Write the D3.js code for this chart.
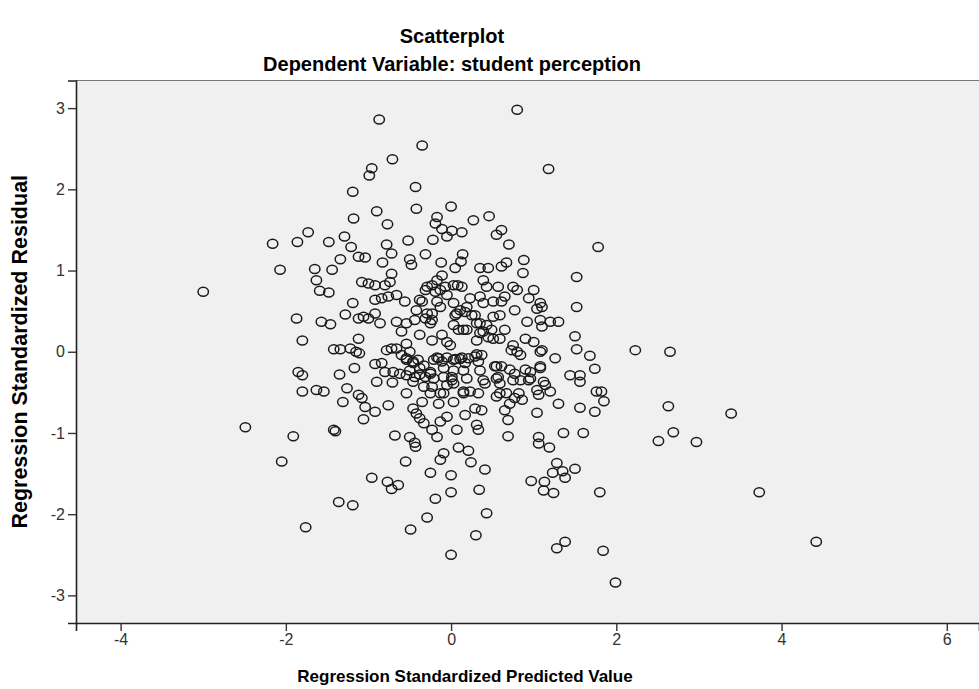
<!DOCTYPE html>
<html>
<head>
<meta charset="utf-8">
<script src="https://cdn.jsdelivr.net/npm/d3@7"></script>
<style>
body { margin: 0; background: #fff; }
svg { display: block; font-family: "Liberation Sans", Arial, sans-serif; }
</style>
</head>
<body>
<svg id="chart"></svg>
<script>
// regression standardized predicted value (x) and standardized residual (y)
var predicted = [
  -0.87,-0.35,-0.71,-0.96,-0.99,-0.43,-1.19,-0.90,-0.42,-1.18,-0.77,0.00,-0.17,-0.19,-0.11,-0.05,-0.22,-0.52,-0.78,-0.72,
  -0.31,-2.16,-1.86,-1.73,-1.48,-1.29,-1.21,-1.34,-1.12,-1.04,-0.83,-0.50,-0.48,-0.12,-2.07,-1.65,-1.44,
  0.80,1.18,1.78,0.46,0.27,0.61,0.55,0.13,0.01,0.70,0.14,0.12,0.88,0.67,0.35,0.61,0.05,0.45,
  -1.63,-1.59,-1.48,-1.08,-1.00,-0.92,-0.80,-0.74,-0.72,-0.31,-0.23,-0.17,-0.11,-0.07,-0.05,-0.19,
  -1.87,-1.80,-1.57,-1.46,-1.28,-1.19,-1.12,-1.06,-1.00,-0.92,-0.92,-0.86,-0.84,-0.76,-0.66,-0.56,-0.66,-0.60,-0.54,-0.42,
  -0.35,-0.31,-0.23,-0.25,-0.13,-0.11,-0.05,-0.23,-0.38,-1.42,-1.34,-1.22,-1.12,-1.15,-1.11,-1.85,-1.80,-1.80,-1.63,-1.54,
  -1.35,-1.17,-1.26,-0.92,-0.84,-0.78,-0.72,-0.66,-0.60,-0.54,-0.50,-0.46,-0.40,-0.38,-0.31,-0.25,-0.21,-0.15,-0.11,-0.80,
  -0.70,-0.62,-0.90,-0.71,-0.54,-0.44,-1.12,-1.08,-1.31,-1.04,-0.92,-0.76,-1.06,-1.42,-1.40,-1.91,-2.49,-0.68,-0.50,-0.46,
  -0.42,-0.38,-0.33,-0.35,-0.23,-0.13,-0.15,-0.05,-0.23,-0.13,-0.05,-0.17,
  1.52,1.52,2.23,0.87,0.08,0.03,0.39,0.43,0.57,0.75,0.80,1.00,0.94,1.08,1.10,1.04,0.77,0.61,0.65,0.51,
  0.39,0.35,0.23,0.19,0.11,0.17,0.03,0.05,0.29,0.59,0.92,1.08,1.20,1.30,1.10,0.03,0.15,0.35,0.39,0.49,
  0.65,0.51,0.31,-0.01,0.90,1.00,1.50,1.52,1.68,1.74,0.75,0.80,0.84,1.08,1.26,1.08,0.03,0.11,0.21,0.29,
  0.37,0.17,0.33,0.55,0.61,0.57,0.59,0.77,0.96,0.84,0.94,0.15,0.35,0.01,0.41,0.03,1.06,1.14,1.20,1.44,
  1.56,1.56,1.76,1.82,1.85,1.30,1.56,1.74,1.04,0.77,0.86,0.67,0.55,0.71,0.65,0.69,0.15,0.23,0.03,0.29,
  0.37,0.17,0.31,0.33,0.07,0.69,1.06,1.36,1.60,
  -2.05,-0.96,-0.77,-0.72,-0.64,-0.55,-0.43,-0.44,-0.25,-0.13,-0.09,0.00,-0.19,0.00,-1.36,-1.19,-1.76,-0.29,-0.49,0.00,
  0.09,0.21,0.24,0.41,0.34,0.43,0.30,1.06,1.19,1.28,1.23,1.35,1.38,1.50,0.97,1.13,1.12,1.24,1.80,1.38,
  1.28,1.84,1.99,
  2.65,2.63,3.39,2.69,2.51,2.97,3.73,4.42,-3.00,
  -0.29,-0.13,0.13,-0.38,-0.17,-0.44,-0.29,-0.23,0.07,0.25,0.31,0.43,0.51,0.09,0.19,0.35,0.45,0.59,-0.54,1.10,
  0.73,-0.54,-0.46,-0.33,-0.17,-0.05,0.05,0.13,0.31,-0.50,-0.38,-0.25,-0.09,0.03,0.53,0.71,0.90,1.08,-0.46,-0.33,
  -0.21,-0.09,0.01,0.19,0.39,0.55,0.75,0.96,1.12,-0.54,-0.25,-0.09,0.15,0.33,0.59,0.82,1.04
];
var residual = [
  2.86,2.54,2.37,2.26,2.17,2.03,1.97,1.73,1.76,1.64,1.57,1.79,1.66,1.58,1.51,1.42,1.38,1.37,1.32,1.21,
  1.20,1.33,1.35,1.47,1.35,1.42,1.29,1.14,1.17,1.16,1.10,1.14,1.07,1.10,1.01,1.02,1.01,
  2.98,2.25,1.29,1.67,1.62,1.50,1.44,1.47,1.49,1.32,1.20,1.11,1.13,1.10,1.03,1.05,1.03,1.03,
  0.88,0.75,0.73,0.86,0.84,0.82,0.82,0.86,0.96,0.76,0.82,0.88,0.94,0.80,0.70,0.74,
  0.41,0.14,0.37,0.34,0.46,0.60,0.41,0.43,0.41,0.47,0.64,0.35,0.66,0.68,0.70,0.62,0.37,0.25,0.35,0.51,
  0.62,0.41,0.47,0.35,0.55,0.21,0.12,0.14,0.21,0.03,0.03,0.04,0.16,0.00,-0.02,-0.25,-0.29,-0.49,-0.47,-0.49,
  -0.28,-0.20,-0.45,-0.15,-0.14,0.02,0.04,0.04,-0.04,-0.08,0.00,-0.14,-0.10,-0.20,-0.31,-0.27,-0.10,-0.08,-0.12,-0.25,
  -0.25,-0.27,-0.37,-0.38,-0.29,-0.31,-0.53,-0.57,-0.62,-0.68,-0.74,-0.66,-0.83,-0.96,-0.98,-1.04,-0.93,-1.03,-1.05,-0.70,
  -0.76,-0.82,-0.88,-0.62,-0.96,-0.86,-0.64,-0.80,-0.43,-0.51,-0.41,-1.05,
  0.92,0.55,0.02,0.97,0.82,0.82,0.88,0.80,0.80,0.80,0.76,0.76,0.66,0.60,0.55,0.53,0.51,0.62,0.68,0.62,
  0.60,0.68,0.66,0.55,0.51,0.49,0.60,0.45,0.45,0.45,0.37,0.39,0.37,0.37,0.31,0.33,0.27,0.35,0.25,0.27,
  0.27,0.16,0.14,0.08,0.16,0.12,0.19,0.03,-0.05,-0.21,0.08,0.00,-0.04,0.00,-0.08,-0.18,-0.10,-0.09,-0.08,-0.06,
  -0.04,-0.14,-0.12,-0.18,-0.18,-0.31,-0.39,-0.27,-0.25,-0.35,-0.35,-0.23,-0.23,-0.31,-0.39,-0.39,-0.53,-0.41,-0.49,-0.29,
  -0.29,-0.37,-0.49,-0.49,-0.61,-0.64,-0.69,-0.74,-0.75,-0.57,-0.59,-0.51,-0.55,-0.64,-0.72,-0.84,-0.51,-0.49,-0.62,-0.70,
  -0.72,-0.78,-0.90,-0.96,-0.96,-1.04,-1.05,-1.00,-1.00,
  -1.35,-1.55,-1.60,-1.69,-1.64,-1.35,-1.17,-1.12,-1.49,-1.33,-1.25,-1.52,-1.81,-1.73,-1.85,-1.89,-2.16,-2.04,-2.19,-2.50,
  -1.18,-1.22,-1.36,-1.45,-1.70,-1.99,-2.26,-1.13,-1.18,-1.37,-1.49,-1.47,-1.55,-1.44,-1.59,-1.60,-1.71,-1.74,-1.73,-2.34,
  -2.42,-2.45,-2.84,
  0.00,-0.67,-0.76,-0.99,-1.10,-1.11,-1.73,-2.34,0.74,
  0.80,0.76,0.80,0.64,0.62,0.39,0.47,0.39,0.47,0.45,0.35,0.33,0.43,0.27,0.27,0.23,0.18,0.16,0.10,0.02,
  0.02,-0.10,-0.12,-0.17,-0.07,-0.07,-0.09,-0.07,-0.03,-0.23,-0.28,-0.25,-0.20,-0.23,-0.18,-0.22,-0.22,-0.20,-0.37,-0.43,
  -0.33,-0.31,-0.35,-0.33,-0.35,-0.33,-0.35,-0.33,-0.37,-0.51,-0.51,-0.51,-0.49,-0.51,-0.51,-0.51,-0.47
];
var xTicks = [-4, -2, 0, 2, 4, 6];
var yTicks = [-3, -2, -1, 0, 1, 2, 3];
var title = "Scatterplot";
var subtitle = "Dependent Variable: student perception";
var xLabel = "Regression Standardized Predicted Value";
var yLabel = "Regression Standardized Residual";

var W = 979, H = 689;
var plotLeft = 76, plotTop = 80.5, plotRight = 979, plotBottom = 623;

var svg = d3.select("#chart").attr("width", W).attr("height", H);

var points = predicted.map(function(d, i) { return { x: d, y: residual[i] }; });

var x = d3.scaleLinear().domain([-4.54, 6.39]).range([plotLeft, plotRight]);
var y = d3.scaleLinear().domain([-3.34, 3.34]).range([plotBottom, plotTop]);

// plot background
svg.append("rect")
    .attr("x", plotLeft).attr("y", plotTop)
    .attr("width", plotRight - plotLeft).attr("height", plotBottom - plotTop)
    .attr("fill", "#f0f0f0");

svg.append("line")
    .attr("x1", plotLeft).attr("x2", plotRight)
    .attr("y1", plotTop).attr("y2", plotTop)
    .attr("stroke", "#777").attr("stroke-width", 1.2);

// points
svg.append("g")
    .selectAll("ellipse")
    .data(points)
    .enter().append("ellipse")
    .attr("cx", function(d) { return x(d.x); })
    .attr("cy", function(d) { return y(d.y); })
    .attr("rx", 5.2)
    .attr("ry", 4.5)
    .attr("fill", "none")
    .attr("stroke", "#1a1a1a")
    .attr("stroke-width", 1.5);

// axes
var fmt = function(d) { return String(d); };
var xAxis = d3.axisBottom(x).tickValues(xTicks).tickFormat(fmt).tickSize(8).tickPadding(3);
var yAxis = d3.axisLeft(y).tickValues(yTicks).tickFormat(fmt).tickSize(8).tickPadding(3);

var gx = svg.append("g")
    .attr("transform", "translate(0," + plotBottom + ")")
    .call(xAxis);
var gy = svg.append("g")
    .attr("transform", "translate(" + plotLeft + ",0)")
    .call(yAxis);

[gx, gy].forEach(function(g) {
    g.select(".domain").attr("stroke", "#222").attr("stroke-width", 1.6);
    g.selectAll(".tick line").attr("stroke", "#333").attr("stroke-width", 1.4);
    g.selectAll(".tick text")
        .attr("fill", "#333")
        .style("font-size", "16px")
        .style("font-family", "'Liberation Sans', Arial, sans-serif");
});

// titles
svg.append("text")
    .attr("x", 452).attr("y", 43)
    .attr("text-anchor", "middle")
    .style("font-size", "20px").style("font-weight", "bold")
    .text(title);

svg.append("text")
    .attr("x", 452).attr("y", 71)
    .attr("text-anchor", "middle")
    .style("font-size", "20px").style("font-weight", "bold")
    .text(subtitle);

svg.append("text")
    .attr("x", 465).attr("y", 682)
    .attr("text-anchor", "middle")
    .style("font-size", "17px").style("font-weight", "bold")
    .text(xLabel);

svg.append("text")
    .attr("transform", "translate(27," + ((plotTop + plotBottom) / 2) + ") rotate(-90)")
    .attr("text-anchor", "middle")
    .style("font-size", "21.5px").style("font-weight", "bold")
    .text(yLabel);
</script>
</body>
</html>
